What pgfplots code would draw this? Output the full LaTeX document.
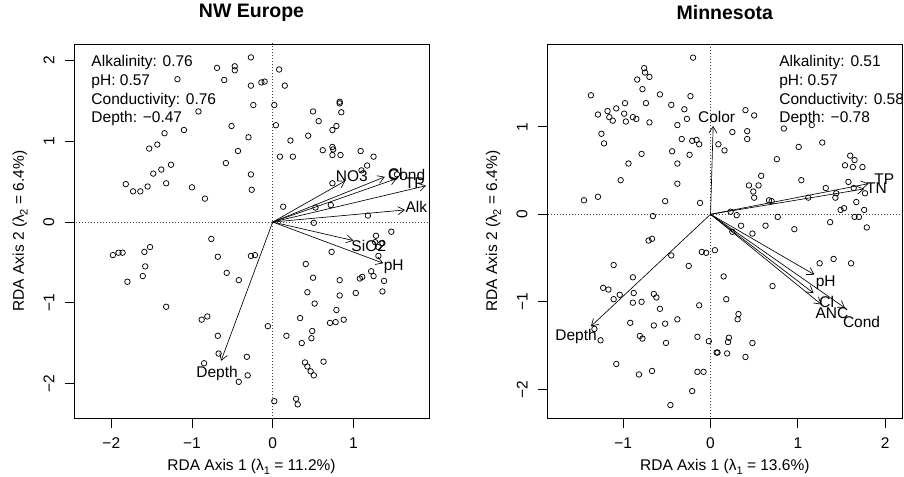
\documentclass[border=0pt]{standalone}
\usepackage{pgfplots}
\pgfplotsset{compat=1.18}
\usepackage{fontspec}
\setmainfont{Liberation Sans}
\usetikzlibrary{arrows.meta}

\newcommand{\basefont}{\fontsize{15.5bp}{18.7bp}\selectfont}
\newcommand{\titlefont}{\fontsize{19.5bp}{22bp}\selectfont\bfseries}
\newcommand{\sub}[1]{\raisebox{-0.45ex}{\fontsize{11bp}{11bp}\selectfont #1}}

\pgfplotsset{
  rplot/.style={
    scale only axis, width=355bp, height=374.3bp,
    axis line style={line width=0.8bp},
    tick align=outside, xtick pos=left, ytick pos=left,
    major tick length=9.5bp,
    tick style={line width=0.8bp, black},
    ticklabel style={font=\basefont, inner sep=0pt},
    yticklabel style={rotate=90, anchor=south},
    xticklabel shift=10bp, yticklabel shift=10bp,
    title style={font=\titlefont, at={(axis description cs:0.5,1.068)}, anchor=center},
    xlabel style={font=\basefont, at={(axis description cs:0.5,-0.129)}, anchor=center},
    ylabel style={font=\basefont, at={(axis description cs:-0.152,0.5)}, anchor=center},
    every axis plot/.append style={line width=0.7bp},
  },
  pts/.style={only marks, mark=o, mark size=2.75bp, black, mark options={line width=0.75bp}},
  vec/.style={black, line width=0.65bp, -{Straight Barb[length=6.5bp,width=8bp]}},
  zero/.style={black!75, line width=0.6bp, dash pattern=on 1bp off 2bp, forget plot},
}

\begin{document}
\begin{tikzpicture}
\useasboundingbox (0,0) rectangle (904bp,477bp);

% ---------------- NW Europe ----------------
\begin{axis}[rplot,
  at={(74bp,58.7bp)}, anchor=south west,
  xmin=-2.462, xmax=1.937, ymin=-2.432, ymax=2.206,
  xtick={-2,-1,0,1}, xticklabels={−2,−1,0,1},
  ytick={-2,-1,0,1,2}, yticklabels={−2,−1,0,1,2},
  title={NW Europe},
  xlabel={RDA Axis 1 (λ\sub{1} = 11.2\%)},
  ylabel={RDA Axis 2 (λ\sub{2} = 6.4\%)},
]
\addplot[zero] coordinates {(-3,0) (3,0)};
\addplot[zero] coordinates {(0,-3) (0,3)};

\addplot[pts] coordinates {
(-0.69,1.91) (-1.18,1.77) (-0.60,1.76) (-0.92,1.37) (-1.10,1.14) (-1.34,1.10)
(-1.43,0.96) (-1.53,0.91) (-1.26,0.71) (-1.38,0.65) (-1.48,0.60) (-0.58,0.73)
(-1.82,0.47) (-1.73,0.38) (-1.64,0.38) (-1.55,0.44) (-1.32,0.48) (-1.00,0.43)
(-0.84,0.29)
(-0.27,2.04) (-0.47,1.93) (-0.47,1.88) (0.08,1.89) (-0.27,1.69) (-0.14,1.73)
(-0.10,1.74) (0.15,1.69) (-0.24,1.45) (0.02,1.45) (0.83,1.49) (0.83,1.47)
(0.85,1.36) (0.50,1.37) (0.57,1.25) (0.79,1.19) (0.74,1.14) (-0.51,1.19)
(0.04,1.20) (-0.30,1.05) (0.44,1.07) (0.22,1.01) (-0.43,0.88) (0.09,0.81)
(0.25,0.81) (0.62,0.89) (0.74,0.93) (0.75,0.90) (0.74,0.83) (0.84,0.83)
(1.09,0.88) (1.25,0.81) (1.17,0.70) (1.10,0.64) (-0.27,0.59) (-0.26,0.40)
(0.13,0.19) (0.53,0.18) (0.72,0.21) (1.18,0.08) (0.74,0.48) (1.54,0.59)
(-1.98,-0.41) (-1.91,-0.38) (-1.86,-0.38) (-1.80,-0.74) (-1.59,-0.37) (-1.52,-0.31)
(-1.58,-0.55) (-1.61,-0.67) (-1.32,-1.05) (-0.76,-0.21) (-0.68,-0.43) (-0.57,-0.63)
(-0.88,-1.21) (-0.81,-1.17) (-0.68,-1.41) (-0.67,-1.63) (-0.85,-1.75)
(0.51,-0.01) (-0.27,-0.42) (-0.22,-0.41) (-0.42,-0.72) (1.28,-0.17) (1.47,-0.12)
(0.73,-0.37) (1.31,-0.42) (0.41,-0.52) (1.22,-0.61) (1.25,-0.67) (1.08,-0.70)
(1.11,-0.68) (1.38,-0.73) (1.36,-0.86) (1.03,-0.88) (0.50,-0.69) (0.83,-0.72)
(0.43,-0.87) (0.83,-0.91) (0.52,-1.01) (0.79,-1.09) (0.34,-1.19) (0.71,-1.25)
(0.78,-1.24) (0.88,-1.21) (-0.06,-1.29) (0.17,-1.41) (0.49,-1.35) (0.48,-1.44)
(0.36,-1.50) (0.63,-1.73) (0.40,-1.74) (0.43,-1.79) (0.47,-1.85) (0.51,-1.90)
(-0.32,-1.67) (-0.31,-1.90) (-0.42,-1.98) (0.02,-2.22) (0.29,-2.19) (0.31,-2.26)
(1.27,-0.25) (1.36,-0.26) (1.31,-0.31)
};

\addplot[vec] coordinates {(0,0) (0.90,0.51)};
\addplot[vec] coordinates {(0,0) (1.39,0.56)};
\addplot[vec] coordinates {(0,0) (1.54,0.54)};
\addplot[vec] coordinates {(0,0) (1.90,0.45)};
\addplot[vec] coordinates {(0,0) (1.64,0.15)};
\addplot[vec] coordinates {(0,0) (1.00,-0.23)};
\addplot[vec] coordinates {(0,0) (1.37,-0.51)};
\addplot[vec] coordinates {(0,0) (-0.64,-1.72)};

\begin{scope}[every node/.style={font=\basefont, inner sep=0pt}]
\node at (axis cs:0.98,0.57) {NO3};
\node at (axis cs:1.52,0.60) {Cl};
\node at (axis cs:1.66,0.58) {Cond};
\node at (axis cs:1.76,0.48) {TP};
\node at (axis cs:1.78,0.19) {Alk};
\node at (axis cs:1.19,-0.30) {SiO2};
\node at (axis cs:1.50,-0.55) {pH};
\node at (axis cs:-0.69,-1.88) {Depth};
\node[anchor=base west] at (axis description cs:0.0487,0.9394) {Alkalinity: 0.76};
\node[anchor=base west] at (axis description cs:0.0487,0.8894) {pH: 0.57};
\node[anchor=base west] at (axis description cs:0.0487,0.8394) {Conductivity: 0.76};
\node[anchor=base west] at (axis description cs:0.0487,0.7895) {Depth: −0.47};
\end{scope}
\end{axis}

% ---------------- Minnesota ----------------
\begin{axis}[rplot,
  at={(547.3bp,58.7bp)}, anchor=south west,
  xmin=-1.870, xmax=2.197, ymin=-2.331, ymax=1.946,
  xtick={-1,0,1,2}, xticklabels={−1,0,1,2},
  ytick={-2,-1,0,1}, yticklabels={−2,−1,0,1},
  title={Minnesota},
  xlabel={RDA Axis 1 (λ\sub{1} = 13.6\%)},
  ylabel={RDA Axis 2 (λ\sub{2} = 6.4\%)},
]
\addplot[zero] coordinates {(-3,0) (3,0)};
\addplot[zero] coordinates {(0,-3) (0,3)};

\addplot[pts] coordinates {
(-0.76,1.67) (-0.75,1.62) (-0.70,1.57) (-0.84,1.54) (-0.78,1.43) (-1.37,1.36)
(-0.58,1.37) (-0.74,1.27) (-0.98,1.27) (-0.45,1.25) (-0.30,1.20) (-0.23,1.35)
(-1.08,1.21) (-1.18,1.18) (-1.29,1.14) (-0.99,1.15) (-1.16,1.11) (-1.12,1.07)
(-0.89,1.11) (-0.85,1.09) (-0.97,1.06) (-0.70,1.05) (-0.38,1.02) (-0.27,1.09)
(-1.25,0.92) (-1.22,0.81) (-0.33,0.86) (-0.44,0.72) (-0.24,0.68) (-0.79,0.69)
(-0.38,0.58) (-0.94,0.58) (-1.03,0.39) (-0.38,0.35) (-1.45,0.16) (-1.29,0.20)
(-0.52,0.15) (-0.66,-0.02)
(-0.20,1.79) (0.40,1.19) (0.50,1.13) (0.25,0.94) (0.42,0.95) (0.42,0.86)
(0.84,0.98) (1.16,1.02) (-0.21,0.84) (-0.16,0.85) (-0.13,0.80) (0.09,0.80)
(0.16,0.73) (-0.12,0.13) (0.76,0.63) (1.01,0.77) (1.28,0.82) (1.60,0.67)
(1.65,0.62) (1.54,0.56) (1.63,0.54) (1.74,0.54) (0.58,0.44) (0.44,0.33)
(0.55,0.33) (0.49,0.26) (0.50,0.19) (1.04,0.39) (0.67,0.16) (0.70,0.15)
(1.12,0.19) (1.32,0.30) (1.44,0.24) (1.43,0.19) (1.58,0.37) (1.64,0.30)
(1.67,0.14) (1.77,0.24) (1.49,0.05) (1.53,0.07) (1.76,0.05) (1.65,-0.03)
(1.70,-0.03) (0.23,0.03) (0.30,-0.01) (0.77,-0.03)
(-0.71,-0.30) (-0.67,-0.28) (-0.45,-0.47) (-0.25,-0.59) (-1.11,-0.58) (-0.89,-0.72)
(-1.23,-0.84) (-1.17,-0.86) (-1.11,-0.97) (-1.04,-0.92) (-0.88,-0.90) (-0.89,-1.01)
(-0.79,-1.00) (-0.65,-0.91) (-0.62,-0.95) (-0.58,-1.08) (-0.92,-1.24) (-0.65,-1.27)
(-0.52,-1.25) (-0.38,-1.20) (-0.81,-1.39) (-0.78,-1.42) (-0.51,-1.47) (-1.33,-1.31)
(-1.26,-1.44) (-1.08,-1.71) (-0.82,-1.83) (-0.67,-1.79) (-0.46,-2.18)
(0.25,-0.20) (0.35,-0.13) (0.48,-0.22) (0.63,-0.13) (0.96,-0.17) (1.37,-0.09)
(1.79,-0.15) (-0.10,-0.43) (-0.05,-0.44) (0.05,-0.41) (0.15,-0.71) (0.18,-0.97)
(-0.13,-1.04) (0.32,-1.14) (0.31,-1.20) (0.71,-0.82) (1.25,-0.56) (1.41,-0.51)
(1.61,-0.56) (-0.15,-1.40) (-0.02,-1.45) (0.21,-1.41) (0.20,-1.46) (0.48,-1.47)
(0.07,-1.58) (0.08,-1.58) (0.19,-1.59) (0.40,-1.63) (-0.15,-1.80) (-0.08,-1.80)
(-0.21,-2.02)
};

\addplot[vec] coordinates {(0,0) (0.03,1.01)};
\addplot[vec] coordinates {(0,0) (1.81,0.35)};
\addplot[vec] coordinates {(0,0) (1.76,0.29)};
\addplot[vec] coordinates {(0,0) (1.19,-0.69)};
\addplot[vec] coordinates {(0,0) (1.18,-0.90)};
\addplot[vec] coordinates {(0,0) (1.27,-1.03)};
\addplot[vec] coordinates {(0,0) (1.54,-1.07)};
\addplot[vec] coordinates {(0,0) (-1.37,-1.28)};

\begin{scope}[every node/.style={font=\basefont, inner sep=0pt}]
\node at (axis cs:0.07,1.115) {Color};
\node at (axis cs:1.99,0.40) {TP};
\node at (axis cs:1.90,0.30) {TN};
\node at (axis cs:1.32,-0.78) {pH};
\node at (axis cs:1.33,-1.00) {Cl};
\node at (axis cs:1.39,-1.13) {ANC};
\node at (axis cs:1.73,-1.23) {Cond};
\node at (axis cs:-1.54,-1.40) {Depth};
\node[anchor=base west] at (axis description cs:0.653,0.9394) {Alkalinity: 0.51};
\node[anchor=base west] at (axis description cs:0.653,0.8894) {pH: 0.57};
\node[anchor=base west] at (axis description cs:0.653,0.8394) {Conductivity: 0.58};
\node[anchor=base west] at (axis description cs:0.653,0.7895) {Depth: −0.78};
\end{scope}
\end{axis}
\end{tikzpicture}
\end{document}
